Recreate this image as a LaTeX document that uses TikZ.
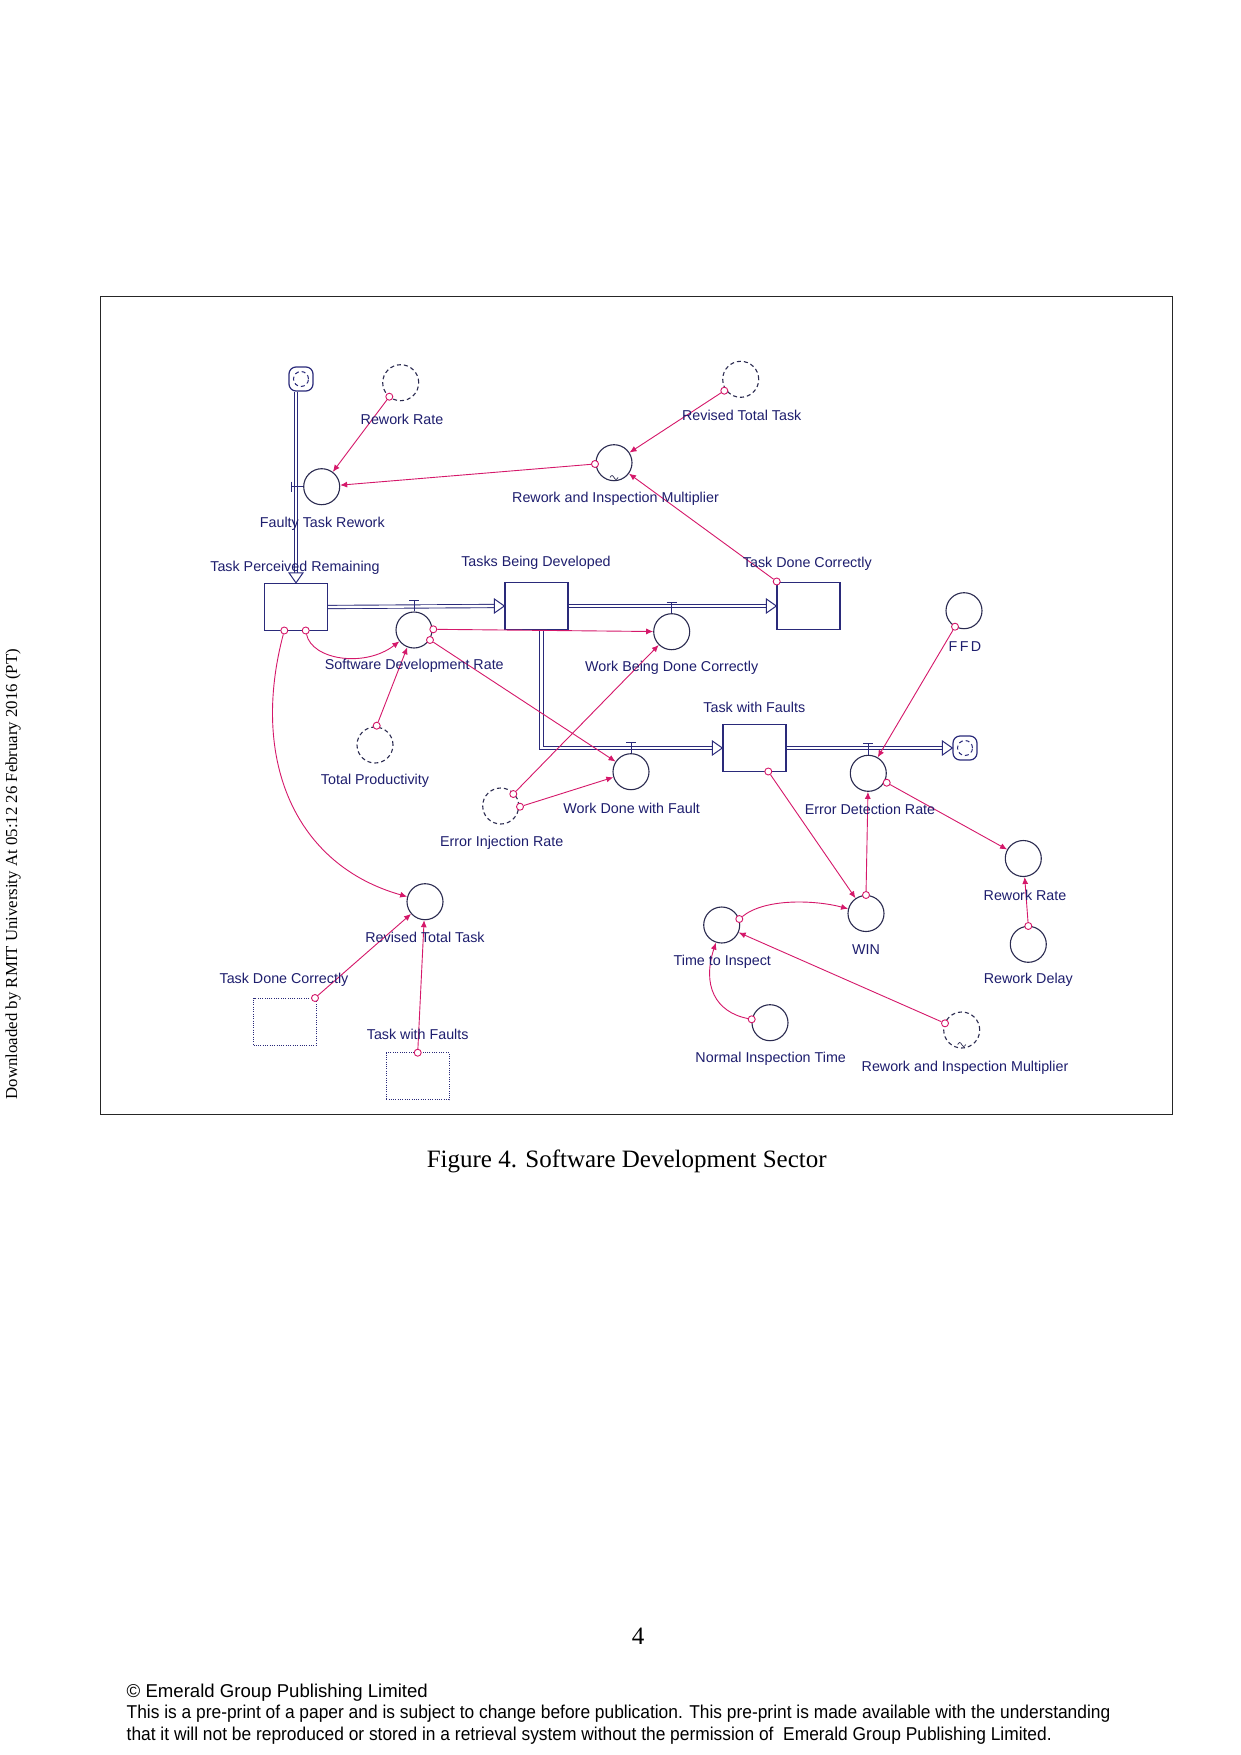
\documentclass[tikz,border=0pt]{standalone}
\usepackage{fontspec}
\setmainfont{Liberation Serif}
\setsansfont{Liberation Sans}
\usetikzlibrary{arrows.meta}
\definecolor{lbl}{HTML}{1E1E6E}
\definecolor{stk}{HTML}{2A2A7A}
\definecolor{lnk}{HTML}{D5186A}
\definecolor{cir}{HTML}{2B2B50}
\begin{document}
\begin{tikzpicture}[x=1pt,y=-1pt,
  conv/.style={circle,draw=cir,line width=1.1pt,minimum size=36pt,inner sep=0pt,fill=white},
  ghostc/.style={conv,dash pattern=on 4pt off 3pt},
  stock/.style={draw=stk,line width=1.3pt,minimum width=63pt,minimum height=47pt,inner sep=0pt,fill=white},
  ghostbox/.style={draw=stk,line width=0.9pt,dash pattern=on 1pt off 1.3pt,minimum width=63pt,minimum height=47pt,inner sep=0pt},
  src/.style={circle,draw=lnk,line width=0.9pt,minimum size=7pt,inner sep=0pt,fill=white},
  link/.style={draw=lnk,line width=0.9pt,-{Latex[length=7pt,width=6pt]}},
  pipe/.style={draw=stk,double=white,double distance=2.4pt,line width=0.9pt},
  pipetip/.style={draw=stk,line width=1pt,fill=white},
  valve/.style={draw=stk,line width=1pt},
  lab/.style={font=\sffamily\fontsize{14.3}{16}\selectfont,text=lbl,inner sep=0pt},
  cloudn/.style={draw=stk,line width=1.2pt,rounded corners=7pt,minimum size=24pt,inner sep=0pt,fill=white,
    path picture={\draw[stk,line width=1pt,dash pattern=on 4pt off 3pt] (path picture bounding box.center) circle (7.5pt);}},
  tild/.style={draw=cir,line width=0.7pt},
  foot/.style={anchor=base west,inner sep=0pt,font=\sffamily\fontsize{18.6}{22}\selectfont}
]
\useasboundingbox (0,0) rectangle (1240,1755);
\fill[white] (0,0) rectangle (1240,1755);

% frame
\draw[line width=0.8pt,black!85] (100.7,296.6) rectangle (1172.8,1114.6);

% stocks and clouds
\node[stock] (TPR) at (296,607) {};
\node[stock] (TBD) at (536.5,606) {};
\node[stock] (TDC) at (808.5,606) {};
\node[stock] (TWF) at (754.5,748) {};
\node[ghostbox] (gTDC) at (285,1021.5) {};
\node[ghostbox] (gTWF) at (417.7,1076.3) {};
\node[cloudn] (C1) at (301,379) {};
\node[cloudn] (C2) at (965,748) {};

% pipes
\draw[pipe] (TPR.north |- C1.south) -- ([yshift=10pt]TPR.north);
\draw[pipetip] (TPR.north) -- ++(-7,-10) -- ++(14,0) -- cycle;
\draw[pipe] (TPR.east) -- ([xshift=-10pt]TBD.west);
\draw[pipetip] (TBD.west) -- ++(-10,-7) -- ++(0,14) -- cycle;
\draw[pipe] (TBD.east) -- ([xshift=-10pt]TDC.west);
\draw[pipetip] (TDC.west) -- ++(-10,-7) -- ++(0,14) -- cycle;
\draw[pipe] ([xshift=5pt]TBD.south) |- ([xshift=-10pt]TWF.west);
\draw[pipetip] (TWF.west) -- ++(-10,-7) -- ++(0,14) -- cycle;
\draw[pipe] (TWF.east) -- ([xshift=-10pt]C2.west);
\draw[pipetip] (C2.west) -- ++(-10,-7) -- ++(0,14) -- cycle;

% converters
\node[conv] (FTR) at (321.7,486.7) {};
\node[conv] (RIM) at (614,462.7) {};
\node[conv] (SDR) at (414,630) {};
\node[conv] (WBDC) at (671.7,631.7) {};
\node[conv] (WDF) at (631,771.7) {};
\node[conv] (EDR) at (868.3,773.3) {};
\node[conv] (FFD) at (964,610.7) {};
\node[conv] (RR2) at (1023.3,858.5) {};
\node[conv] (RD) at (1028.3,944.3) {};
\node[conv] (WIN) at (866,913.5) {};
\node[conv] (TTI) at (721.7,925) {};
\node[conv] (NIT) at (770,1022.7) {};
\node[conv] (RTT2) at (425,901.7) {};
\node[ghostc] (RR1) at (400.7,382.7) {};
\node[ghostc] (RTT1) at (740.7,379.3) {};
\node[ghostc] (TP) at (375,745) {};
\node[ghostc] (EIR) at (500.7,806) {};
\node[ghostc] (RIM2) at (961.7,1030) {};

% graphical-function marks
\draw[tild] (610,477.5) sin (612,475.5) cos (614,477.5) sin (616,479.5) cos (618,477.5);
\draw[tild] (957.7,1044.5) sin (959.7,1042.5) cos (961.7,1044.5) sin (963.7,1046.5) cos (965.7,1044.5);

% valves
\draw[valve] (SDR.north) -- ++(0,-11) ++(-5,0) -- ++(10,0);
\draw[valve] (WBDC.north) -- ++(0,-11) ++(-5,0) -- ++(10,0);
\draw[valve] (WDF.north) -- ++(0,-11) ++(-5,0) -- ++(10,0);
\draw[valve] (EDR.north) -- ++(0,-11) ++(-5,0) -- ++(10,0);
\draw[valve] (FTR.west) -- ++(-12,0) ++(0,-5) -- ++(0,10);

% connector sources
\node[src] (s1) at (389.3,396.7) {};
\node[src] (s2) at (595,464) {};
\node[src] (s3) at (724.3,390.7) {};
\node[src] (s4) at (776.7,581.5) {};
\node[src] (s5) at (284.3,630.5) {};
\node[src] (s6) at (305.7,630.5) {};
\node[src] (s7) at (376.7,725.7) {};
\node[src] (s8) at (433.3,629.3) {};
\node[src] (s9) at (430,640) {};
\node[src] (s10) at (513.3,794) {};
\node[src] (s11) at (520,806.7) {};
\node[src] (s12) at (955,626.7) {};
\node[src] (s13) at (768.3,771.5) {};
\node[src] (s14) at (866,895) {};
\node[src] (s15) at (886.7,782.7) {};
\node[src] (s16) at (1028.3,926) {};
\node[src] (s17) at (739.3,919) {};
\node[src] (s18) at (751.7,1019.3) {};
\node[src] (s19) at (945,1023.3) {};
\node[src] (s20) at (315,998) {};
\node[src] (s21) at (417.7,1052.7) {};

% connectors
\draw[link] (s1) -- (FTR);
\draw[link] (s2) -- (FTR);
\draw[link] (s3) -- (RIM);
\draw[link] (s4) -- (RIM);
\draw[link] (s5) .. controls (250,760) and (295,865) .. (RTT2);
\draw[link] (s6) .. controls (312,660) and (365,668) .. (SDR);
\draw[link] (s7) -- (SDR);
\draw[link] (s8) -- (WBDC);
\draw[link] (s9) -- (WDF);
\draw[link] (s10) -- (WBDC);
\draw[link] (s11) -- (WDF);
\draw[link] (s12) -- (EDR);
\draw[link] (s13) -- (WIN);
\draw[link] (s14) -- (EDR);
\draw[link] (s15) -- (RR2);
\draw[link] (s16) -- (RR2);
\draw[link] (s17) .. controls (765,898) and (815,900) .. (WIN);
\draw[link] (s18) .. controls (715,1012) and (702,985) .. (TTI);
\draw[link] (s19) -- (TTI);
\draw[link] (s20) -- (RTT2);
\draw[link] (s21) -- (RTT2);

% labels
\node[lab] (lRR1) at (402,419) {Rework Rate};
\node[lab] (lFTR) at (322.3,523.3) {Faulty Task Rework};
\node[lab] (lRTT1) at (741.7,415.3) {Revised Total Task};
\node[lab] (lRIM) at (615.5,498.3) {Rework and Inspection Multiplier};
\node[lab] (lTPR) at (295,567.7) {Task Perceived Remaining};
\node[lab] (lTBD) at (536,562.3) {Tasks Being Developed};
\node[lab] (lTDC) at (807.3,564) {Task Done Correctly};
\node[lab] (lSDR) at (414.3,665.7) {Software Development Rate};
\node[lab] (lWBDC) at (671.7,667.3) {Work Being Done Correctly};
\node[lab] (lTP) at (375,780.7) {Total Productivity};
\node[lab] (lTWF) at (754.3,707.3) {Task with Faults};
\node[lab] (lWDF) at (631.7,808.3) {Work Done with Fault};
\node[lab] (lEIR) at (501.7,842.7) {Error Injection Rate};
\node[lab] (lEDR) at (870,809.3) {Error Detection Rate};
\node[lab] (lFFD) at (965,646.7) {F\,F\,D};
\node[lab] (lRR2) at (1025,895) {Rework Rate};
\node[lab] (lWIN) at (866,950) {WIN};
\node[lab] (lRD) at (1028.3,980) {Rework Delay};
\node[lab] (lTTI) at (722.3,961.7) {Time to Inspect};
\node[lab] (lNIT) at (770.7,1058.3) {Normal Inspection Time};
\node[lab] (lRIM2) at (965,1067.7) {Rework and Inspection Multiplier};
\node[lab] (lRTT2) at (425,937.7) {Revised Total Task};
\node[lab] (lgTDC) at (284,980) {Task Done Correctly};
\node[lab] (lgTWF) at (417.7,1034.3) {Task with Faults};

% page texts
\node[anchor=base,inner sep=0pt,font=\fontsize{25}{30}\selectfont] (cap) at (626.7,1167.3) {Figure 4. Software Development Sector};
\node[anchor=base,inner sep=0pt,font=\fontsize{25}{30}\selectfont] (pg) at (638,1644.5) {4};
\node[rotate=90,inner sep=0pt,font=\fontsize{16.8}{20}\selectfont] (dl) at (13,874) {Downloaded by RMIT University At 05:12 26 February 2016 (PT)};
\node[foot] (f1) at (126.5,1697) {\textcopyright{} Emerald Group Publishing Limited};
\node[foot] (f2) at (126.5,1718.5) {\scalebox{0.934}[1]{This is a pre-print of a paper and is subject to change before publication. This pre-print is made available with the understanding}};
\node[foot] (f3) at (126.5,1740) {\scalebox{0.934}[1]{that it will not be reproduced or stored in a retrieval system without the permission of\ \ Emerald Group Publishing Limited.}};
\end{tikzpicture}
\end{document}
